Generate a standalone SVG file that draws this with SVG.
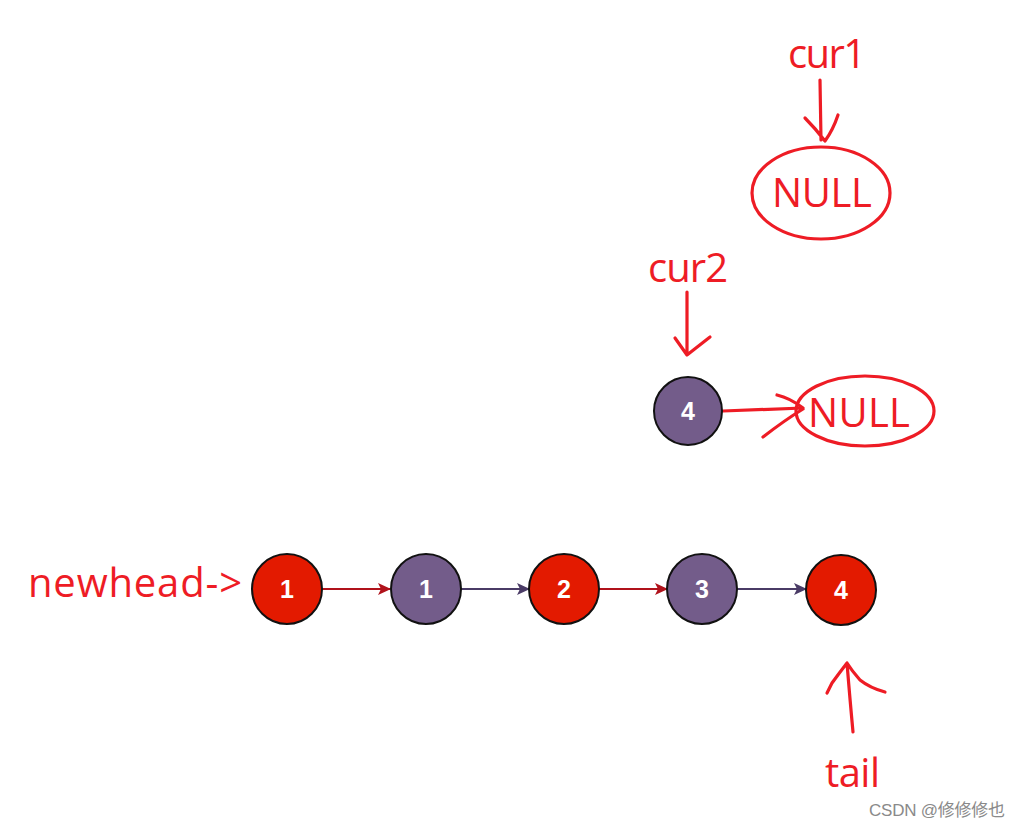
<svg xmlns="http://www.w3.org/2000/svg" width="1021" height="829" viewBox="0 0 1021 829">
<defs>
<style>
.red{fill:#E31A00;stroke:#111;stroke-width:2}
.pur{fill:#735C8A;stroke:#111;stroke-width:2}
.num{font-family:"Liberation Sans",Arial,sans-serif;font-weight:bold;font-size:25px;fill:#fff;text-anchor:middle}
.hand{fill:none;stroke:#EE1C25;stroke-width:3.2;stroke-linecap:round;stroke-linejoin:round}
.lbl{font-family:"Open Sans","Liberation Sans",sans-serif;font-size:40px;fill:#EE1C25}
.wm{font-family:"Liberation Sans","Noto Sans CJK SC",sans-serif;font-size:17px;fill:#8a8a8a}
</style>
<marker id="ar" markerWidth="13" markerHeight="12" refX="12" refY="6" orient="auto" markerUnits="userSpaceOnUse"><path d="M0,0 L13,6 L0,12 L3,6 Z" fill="#B0121B"/></marker>
<marker id="ap" markerWidth="13" markerHeight="12" refX="12" refY="6" orient="auto" markerUnits="userSpaceOnUse"><path d="M0,0 L13,6 L0,12 L3,6 Z" fill="#4A3B66"/></marker>
</defs>
<rect width="1021" height="829" fill="#fff"/>
<g id="connectors">
<line x1="322" y1="589" x2="390" y2="589" stroke="#B0121B" stroke-width="2" marker-end="url(#ar)"/>
<line x1="461" y1="589" x2="529" y2="589" stroke="#4A3B66" stroke-width="2" marker-end="url(#ap)"/>
<line x1="599" y1="589" x2="667" y2="589" stroke="#B0121B" stroke-width="2" marker-end="url(#ar)"/>
<line x1="737" y1="589" x2="806" y2="589" stroke="#4A3B66" stroke-width="2" marker-end="url(#ap)"/>
<path class="hand" d="M723,411 L803,408 M777,395 Q790,398 803,408 M763,437 Q785,420 803,409"/>
<path class="hand" d="M820,80 L821,140 M805,118 Q815,128 825,141 M838,115 Q833,130 825,141"/>
<path class="hand" d="M687,292 L687,355 M675,338 L687,355 L710,337"/>
<path class="hand" d="M853,732 Q850,700 847,663 M827,693 L832,683 Q840,672 847,663 M885,692 Q870,688 860,680 Q852,671 847,663"/>
</g>
<g id="n1"><circle class="red" cx="287" cy="589" r="35"/><text class="num" x="287" y="598">1</text></g>
<g id="n2"><circle class="pur" cx="426" cy="589" r="35"/><text class="num" x="426" y="598">1</text></g>
<g id="n3"><circle class="red" cx="564" cy="589" r="35"/><text class="num" x="564" y="598">2</text></g>
<g id="n4"><circle class="pur" cx="702" cy="589" r="35"/><text class="num" x="702" y="598">3</text></g>
<g id="n5"><circle class="red" cx="841" cy="590" r="35"/><text class="num" x="841" y="599">4</text></g>
<g id="n6"><circle class="pur" cx="688" cy="411" r="34"/><text class="num" x="688" y="420">4</text></g>
<g id="null1"><ellipse class="hand" cx="821" cy="193" rx="69" ry="46"/><text class="lbl" x="822" y="207" text-anchor="middle" textLength="100">NULL</text></g>
<g id="null2"><ellipse class="hand" cx="865" cy="411" rx="69" ry="35"/><text class="lbl" x="859" y="427" text-anchor="middle" textLength="102">NULL</text></g>
<g id="labels">
<text class="lbl" x="788" y="68" textLength="78">cur1</text>
<text class="lbl" x="648" y="282" textLength="80">cur2</text>
<text class="lbl" x="825" y="787" textLength="55">tail</text>
<text class="lbl" x="28" y="597" textLength="214">newhead-&gt;</text>
<text class="wm" x="869" y="816" textLength="136">CSDN @修修修也</text>
</g>
</svg>
